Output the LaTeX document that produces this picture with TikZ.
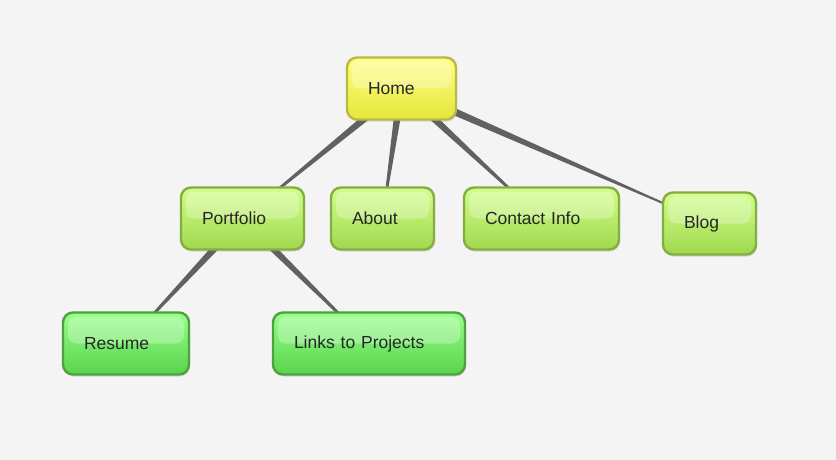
\documentclass[tikz,border=0pt]{standalone}
\usepackage{fontspec}
\setmainfont{Liberation Sans}
\usetikzlibrary{calc,shadows,backgrounds}

\definecolor{paper}{HTML}{F4F4F4}
\definecolor{linkgray}{HTML}{616161}
\definecolor{homeTop}{HTML}{FFFF88}
\definecolor{homeBot}{HTML}{E6E63A}
\definecolor{homeLine}{HTML}{B9B944}
\definecolor{pageTop}{HTML}{D2FF8C}
\definecolor{pageBot}{HTML}{A0D84E}
\definecolor{pageLine}{HTML}{84AE42}
\definecolor{subTop}{HTML}{98FF8A}
\definecolor{subBot}{HTML}{58D44C}
\definecolor{subLine}{HTML}{4CA23C}

% tapered link: from, to, half width at from, half width at to
\newcommand{\twig}[4]{%
  \fill[linkgray] ($(#1)!#3!90:(#2)$) -- ($(#1)!#3!-90:(#2)$)
    -- ($(#2)!#4!90:(#1)$) -- ($(#2)!#4!-90:(#1)$) -- cycle;}

\tikzset{
  box/.style={rounded corners=10pt, line width=2.4pt, minimum height=62pt,
    inner xsep=21pt, align=left, text=black!85,
    font=\fontsize{17.5}{20}\selectfont,
    drop shadow={shadow xshift=1pt, shadow yshift=-2pt, opacity=.25},
    path picture={\fill[white, opacity=.28, rounded corners=8pt]
      ($(path picture bounding box.north west)+(5pt,-4pt)$) rectangle
      ($(path picture bounding box.east)+(-5pt,0pt)$);}},
  homebox/.style={box, draw=homeLine, top color=homeTop, bottom color=homeBot},
  pagebox/.style={box, draw=pageLine, top color=pageTop, bottom color=pageBot},
  subbox/.style={box, draw=subLine, top color=subTop, bottom color=subBot}
}

\begin{document}
\begin{tikzpicture}[x=1pt, y=-1pt]
    \useasboundingbox (0,0) rectangle (836,460);

    % root
    \node[homebox, text width=67pt] (home) at (401.5,88.5) {Home};

    % pages
    \node[pagebox, text width=81pt]  (portfolio) at (242.5,218.5) {Portfolio};
    \node[pagebox, text width=61pt]  (about)     at (382.5,218.5) {About};
    \node[pagebox, text width=113pt] (contact)   at (541.5,218.5) {Contact Info};
    \node[pagebox, text width=51pt]  (blog)      at (709.5,223.5) {Blog};

    % portfolio items
    \node[subbox, text width=84pt]  (resume) at (126,343.5) {Resume};
    \node[subbox, text width=150pt] (links)  at (369,343.5) {Links to Projects};

    \begin{scope}[on background layer]
        % paper
        \fill[paper] (0,0) rectangle (836,460);
        % links
        \twig{home}{portfolio}{4.2pt}{0.5pt}
        \twig{home}{about}{4.2pt}{0.5pt}
        \twig{home}{contact}{4.2pt}{0.5pt}
        \twig{home}{blog}{4.2pt}{0.4pt}
        \twig{portfolio}{resume}{4.2pt}{0.5pt}
        \twig{portfolio}{links}{4.2pt}{0.5pt}
    \end{scope}
\end{tikzpicture}
\end{document}
